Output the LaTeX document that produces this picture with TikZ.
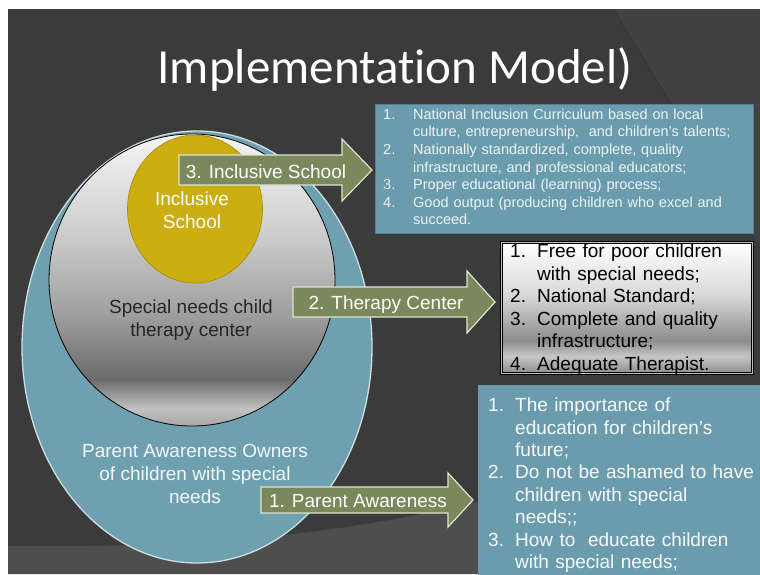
\documentclass[tikz,border=0pt]{standalone}
\usepackage{fontspec}
\setmainfont{Liberation Sans}
\newfontfamily\titlefont[Ligatures=NoCommon]{Carlito}
\usetikzlibrary{shapes.geometric,positioning}
\definecolor{slide}{HTML}{3B3B3B}
\definecolor{slidelow}{HTML}{4E4E4E}
\definecolor{slidefold}{HTML}{414141}
\definecolor{parentblue}{HTML}{6FA0B0}
\definecolor{boxblue}{HTML}{6A9CAE}
\definecolor{schoolgold}{HTML}{CCAE10}
\definecolor{arrowgreen}{HTML}{7A885C}
\definecolor{arrowedge}{HTML}{DDE4D0}
\pgfdeclareverticalshading{greyball}{100bp}{color(0bp)=(black!35); color(25bp)=(black!35);
  color(28bp)=(black!24); color(33bp)=(black!58); color(44bp)=(black!38);
  color(57.5bp)=(black!20); color(75bp)=(black!4); color(100bp)=(black!4)}
\pgfdeclareverticalshading{silverbox}{100bp}{color(0bp)=(black!45); color(25bp)=(black!45);
  color(31.5bp)=(black!22); color(37.5bp)=(black!45); color(55bp)=(black!15);
  color(75bp)=(white); color(100bp)=(white)}
\setlength{\parskip}{0pt}
\newcommand{\numitem}[3]{\par\noindent\hangindent=#1\hangafter=1\makebox[#1][l]{#2}#3\par}

\begin{document}
\begin{tikzpicture}[x=1pt, y=-1pt,
    bigtxt/.style = {font=\fontsize{19}{22.7}\selectfont, align=center, inner sep=0pt},
    arrowtxt/.style = {bigtxt, text=white, anchor=base},
    arrowshape/.style = {fill=arrowgreen, draw=arrowedge, line width=1.2pt},
    listbox/.style = {anchor=north west, inner sep=0pt},
    listtxt/.style = {align=left, inner sep=0pt}]
  \useasboundingbox (0,0) rectangle (760,574);
  % slide background
  \fill[white] (0,0) rectangle (760,574);
  \fill[slide] (8,9) rectangle (760,574);
  \fill[slidefold] (613,9) -- (760,9) -- (760,248) -- cycle;
  \draw[black!80, line width=0.6pt] (613,9) -- (760,248);
  \fill[slidelow] (8,546) .. controls (250,548) and (420,535) .. (760,420)
    -- (760,574) -- (8,574) -- cycle;
  \node[text=white, anchor=base, font=\titlefont\fontsize{49}{55}\selectfont]
    (title) at (395,83) {Implementation Model)};

  % circles
  \node[ellipse, fill=parentblue, draw=parentblue!35!white, line width=1.3pt,
    minimum width=350pt, minimum height=432pt, inner sep=0pt] (parent) at (197,347) {};
  \node[ellipse, shading=greyball, draw=black, line width=0.8pt,
    minimum width=286pt, minimum height=292pt, inner sep=0pt] (therapy) at (192,280) {};
  \node[ellipse, fill=schoolgold, draw=schoolgold!80!black, line width=0.6pt,
    minimum width=135pt, minimum height=148pt, inner sep=0pt] (school) at (195,209) {};
  \node[bigtxt, text=white] (schooltxt) at (192,210) {Inclusive\\School};
  \node[bigtxt, text=black!85] (therapytxt) at (191,320) {Special needs child\\therapy center};
  \node[bigtxt, text=white!92!parentblue] (parenttxt) at (195,474)
    {Parent Awareness Owners\\of children with special\\needs};

  % arrows
  \filldraw[arrowshape] (179,155) -- (342,155) -- (342,139) -- (372,170)
    -- (342,201) -- (342,185) -- (179,185) -- cycle;
  \node[arrowtxt] (schoolarrow) at (266,178) {3. Inclusive School};
  \filldraw[arrowshape] (293,287) -- (467,287) -- (467,271) -- (495,302)
    -- (467,333) -- (467,317) -- (293,317) -- cycle;
  \node[arrowtxt] (therapyarrow) at (386,309) {2. Therapy Center};
  \filldraw[arrowshape] (261,487) -- (448,487) -- (448,473) -- (473,500)
    -- (448,527) -- (448,513) -- (261,513) -- cycle;
  \node[arrowtxt] (parentarrow) at (358,507) {1. Parent Awareness};

  % boxes
  \node[listbox, fill=boxblue, draw=boxblue!80!black, line width=0.6pt,
    minimum width=378pt, minimum height=129pt] (schoolbox) at (375,104) {};
  \node[listtxt, below right=-2.5pt and 8pt of schoolbox.north west, text=white!88!boxblue,
    text width=362pt, font=\fontsize{14.5}{17.6}\selectfont] (schoollist) {%
    \numitem{30pt}{1.}{National Inclusion Curriculum based on local\newline
      culture, entrepreneurship,\ \ and children’s talents;}%
    \numitem{30pt}{2.}{Nationally standardized, complete, quality\newline
      infrastructure, and professional educators;}%
    \numitem{30pt}{3.}{Proper educational (learning) process;}%
    \numitem{30pt}{4.}{Good output (producing children who excel and\newline succeed.}};
  \node[listbox, shading=silverbox, draw=black, line width=0.8pt, double=black!25,
    double distance=0.8pt, minimum width=251pt, minimum height=131pt] (therapybox) at (501,242) {};
  \node[listtxt, below right=-7pt and 9pt of therapybox.north west, text=black,
    text width=233pt, font=\fontsize{19}{22.5}\selectfont] (therapylist) {%
    \numitem{27pt}{1.}{Free for poor children\newline with special needs;}%
    \numitem{27pt}{2.}{National Standard;}%
    \numitem{27pt}{3.}{Complete and quality\newline infrastructure;}%
    \numitem{27pt}{4.}{Adequate Therapist.}};
  \node[listbox, fill=boxblue, minimum width=290pt, minimum height=196pt] (parentbox) at (478,385) {};
  \node[listtxt, below right=4pt and 10pt of parentbox.north west, text=white!95!boxblue,
    text width=272pt, font=\fontsize{19}{22.4}\selectfont] (parentlist) {%
    \numitem{27pt}{1.}{The importance of\newline education for children's\newline future;}%
    \numitem{27pt}{2.}{Do not be ashamed to have\newline children with special\newline needs;;}%
    \numitem{27pt}{3.}{How to\ \ educate children\newline with special needs;}};
\end{tikzpicture}
\end{document}
